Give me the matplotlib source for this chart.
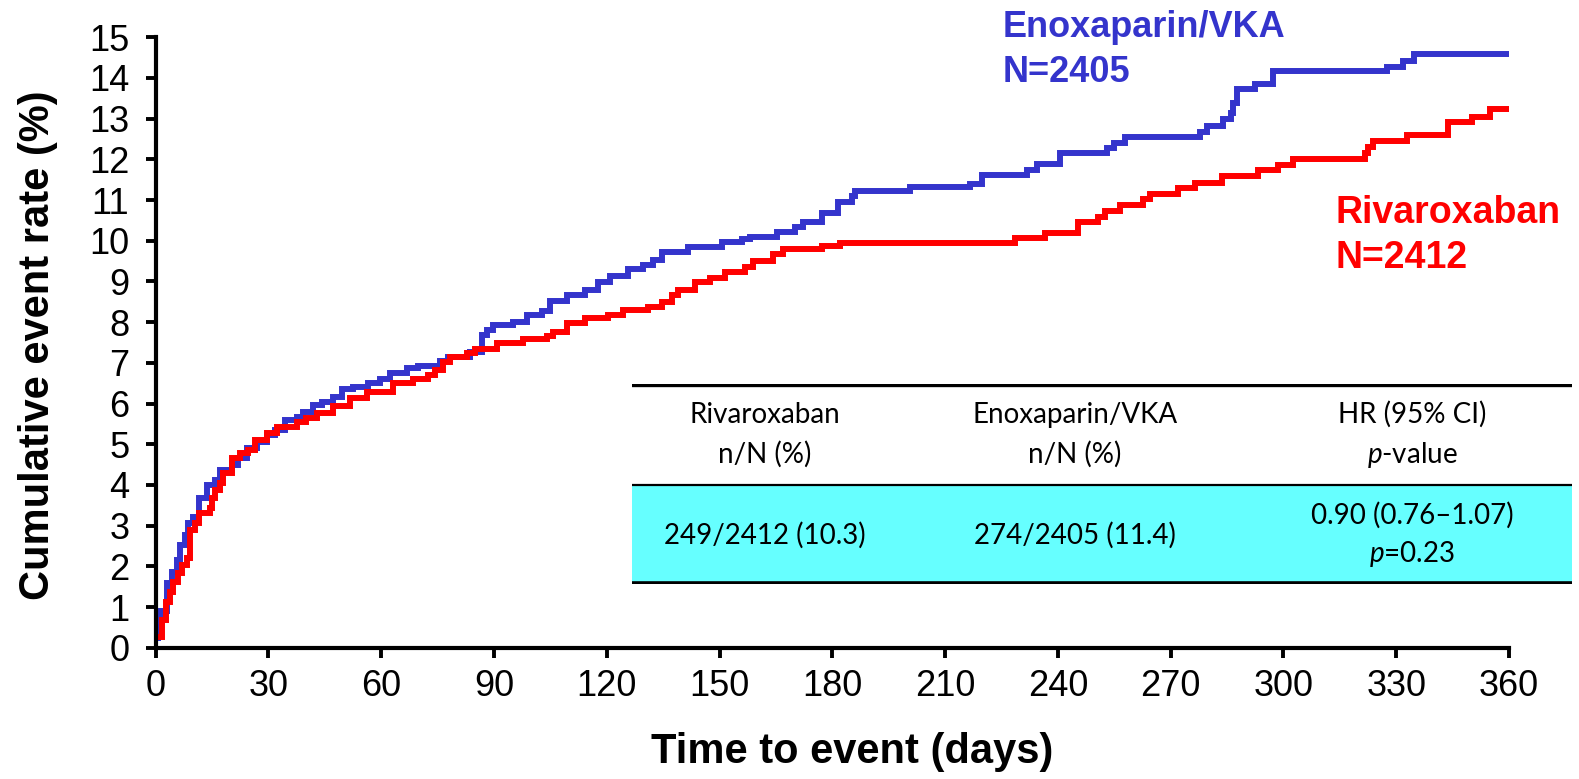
import matplotlib.pyplot as plt
import numpy as np

plt.rcParams['font.family'] = ['Liberation Sans', 'DejaVu Sans']
plt.rcParams['mathtext.fontset'] = 'custom'
plt.rcParams['mathtext.rm'] = 'Lato'
plt.rcParams['mathtext.it'] = 'Lato:italic'

# Kaplan-Meier style cumulative event rates (%), step at each day
enox_days = [0, 0.7, 1.5, 2.9, 4.3, 5.6, 6.5, 7.8, 8.7, 10.0, 11.6, 13.6, 15.8, 17.1,
             20.2, 22.0, 24.2, 26.9, 29.5, 31.7, 34.4, 37.5, 39.3, 41.9, 44.2, 47.2,
             49.5, 52.6, 56.6, 59.7, 62.3, 66.8, 69.9, 75.6, 77.8, 83.6, 86.7, 88.0,
             89.8, 95.1, 98.7, 102.7, 104.9, 109.3, 114.2, 117.7, 120.9, 125.7, 129.7,
             132.4, 134.6, 141.7, 150.6, 155.9, 158.1, 165.2, 170.1, 172.3, 177.2,
             181.6, 185.2, 186.0, 200.7, 216.6, 219.7, 231.7, 234.4, 240.6, 253.0,
             254.8, 257.9, 277.8, 279.6, 284.0, 286.0, 286.7, 287.6, 292.4, 297.3,
             327.5, 331.9, 334.6, 360]
enox_rate = [0.25, 0.52, 0.90, 1.58, 1.87, 2.16, 2.52, 2.77, 3.06, 3.22, 3.67, 4.00, 4.12,
             4.37, 4.49, 4.65, 4.90, 5.06, 5.23, 5.35, 5.60, 5.68, 5.80, 5.96, 6.05, 6.17,
             6.35, 6.41, 6.51, 6.60, 6.76, 6.87, 6.93, 7.05, 7.15, 7.27, 7.69, 7.80,
             7.93, 8.01, 8.18, 8.28, 8.53, 8.67, 8.79, 8.99, 9.13, 9.30, 9.41,
             9.53, 9.73, 9.85, 9.98, 10.04, 10.10, 10.22, 10.35, 10.45, 10.68,
             10.96, 11.10, 11.22, 11.33, 11.40, 11.62, 11.74, 11.88, 12.15, 12.27,
             12.40, 12.54, 12.68, 12.83, 12.99, 13.13, 13.39, 13.72, 13.85, 14.16,
             14.28, 14.42, 14.58, 14.58]

riva_days = [0, 1.6, 2.7, 3.8, 4.7, 6.0, 6.9, 8.2, 9.1, 10.5, 11.6, 14.4, 14.9, 15.8,
             17.1, 18.0, 20.2, 22.4, 24.6, 26.4, 29.5, 32.2, 37.5, 40.0, 42.8, 47.2,
             51.7, 56.1, 63.2, 68.5, 72.5, 74.3, 76.5, 78.3, 82.7, 84.9, 90.7, 97.8,
             104.0, 105.8, 109.3, 114.2, 120.4, 124.4, 131.0, 134.6, 137.3, 139.0,
             143.5, 147.5, 151.5, 156.8, 159.0, 164.3, 167.0, 177.2, 182.0, 228.6,
             236.6, 245.4, 250.8, 252.5, 256.5, 262.7, 264.5, 272.0, 276.5, 283.6,
             293.3, 298.6, 302.6, 321.7, 322.6, 323.7, 332.8, 343.9, 350.1, 355.0, 360]
riva_rate = [0.27, 0.68, 1.13, 1.38, 1.62, 1.83, 2.03, 2.20, 2.89, 3.06, 3.30, 3.43, 3.67,
             3.88, 4.04, 4.29, 4.65, 4.78, 4.86, 5.10, 5.27, 5.43, 5.55, 5.64, 5.76, 5.94,
             6.13, 6.29, 6.50, 6.60, 6.70, 6.83, 7.03, 7.14, 7.24, 7.33, 7.50, 7.58,
             7.66, 7.77, 7.97, 8.10, 8.18, 8.30, 8.38, 8.50, 8.67, 8.79,
             8.99, 9.08, 9.24, 9.36, 9.51, 9.68, 9.79, 9.87, 9.94, 10.06,
             10.20, 10.47, 10.59, 10.72, 10.88, 11.02, 11.15, 11.29, 11.43, 11.59,
             11.74, 11.86, 12.00, 12.15, 12.31, 12.46, 12.60, 12.93, 13.05, 13.23, 13.23]

x_ticks = list(range(0, 361, 30))
y_ticks = list(range(0, 16))

col_headers = [("Rivaroxaban", "n/N (%)"),
               ("Enoxaparin/VKA", "n/N (%)"),
               ("HR (95% CI)", "$p$-value")]
col_values = ["249/2412 (10.3)", "274/2405 (11.4)", ("0.90 (0.76\u20131.07)", "$p$=0.23")]

BLUE = "#3434CC"
RED = "#FF0000"

W, H = 1579, 779
fig = plt.figure(figsize=(W / 100, H / 100), dpi=100)
ax = fig.add_axes([155.7 / W, 1 - 647.7 / H, (1509 - 155.7) / W, (647.7 - 37.3) / H])

ax.step(enox_days, enox_rate, where="post", color=BLUE, lw=4.3, solid_joinstyle="miter")
ax.step(riva_days, riva_rate, where="post", color=RED, lw=4.3, solid_joinstyle="miter")

ax.set_xlim(0, 360)
ax.set_ylim(0, 15)
ax.set_xticks(x_ticks)
ax.set_yticks(y_ticks)
for s in ["top", "right"]:
    ax.spines[s].set_visible(False)
for s in ["left", "bottom"]:
    ax.spines[s].set_linewidth(3)
ax.tick_params(axis="both", width=2.8, length=7, labelsize=26)
ax.tick_params(axis="x", pad=8)
ax.tick_params(axis="y", pad=12)

fig.text(38 / W, 1 - 345 / H, "Cumulative event rate (%)", rotation=90,
         ha="center", va="center", fontsize=30, fontweight="bold")
fig.text(852 / W, 1 - 752 / H, "Time to event (days)",
         ha="center", va="center", fontsize=30, fontweight="bold")

# group labels
fig.text(1003 / W, 1 - 37 / H, "Enoxaparin/VKA", color=BLUE, fontsize=26,
         fontweight="bold", ha="left", va="baseline")
fig.text(1003 / W, 1 - 82 / H, "N=2405", color=BLUE, fontsize=26,
         fontweight="bold", ha="left", va="baseline")
fig.text(1335 / W, 1 - 223 / H, "Rivaroxaban", color=RED, fontsize=27,
         fontweight="bold", ha="left", va="baseline")
fig.text(1335 / W, 1 - 268 / H, "N=2412", color=RED, fontsize=27,
         fontweight="bold", ha="left", va="baseline")

# summary table overlaid on the plot
tx0, tx1, ty0, ty1 = 632, 1572, 383.7, 584
tab = fig.add_axes([tx0 / W, 1 - ty1 / H, (tx1 - tx0) / W, (ty1 - ty0) / H])
tab.set_xlim(0, tx1 - tx0)
tab.set_ylim(ty1 - ty0, 0)
tab.axis("off")
tab.patch.set_alpha(0)
tab.axhspan(101.3, 198.3, color="#66FFFF", lw=0)
tab.axhline(1.2, color="black", lw=2.4)
tab.axhline(101.3, color="black", lw=1.6)
tab.axhline(198.8, color="black", lw=2.6)

col_x = [133, 443, 780]
tfont = dict(family=["Lato", "DejaVu Sans"], fontsize=20, ha="center")
for cx, (l1, l2) in zip(col_x, col_headers):
    tab.text(cx, 39, l1, va="baseline", **tfont)
    tab.text(cx, 79, l2, va="baseline", **tfont)
for cx, val in zip(col_x, col_values):
    if isinstance(val, tuple):
        tab.text(cx, 132, val[0], va="center", **tfont)
        tab.text(cx, 170, val[1], va="center", **tfont)
    else:
        tab.text(cx, 152, val, va="center", **tfont)

fig.savefig("out.png", dpi=100)
